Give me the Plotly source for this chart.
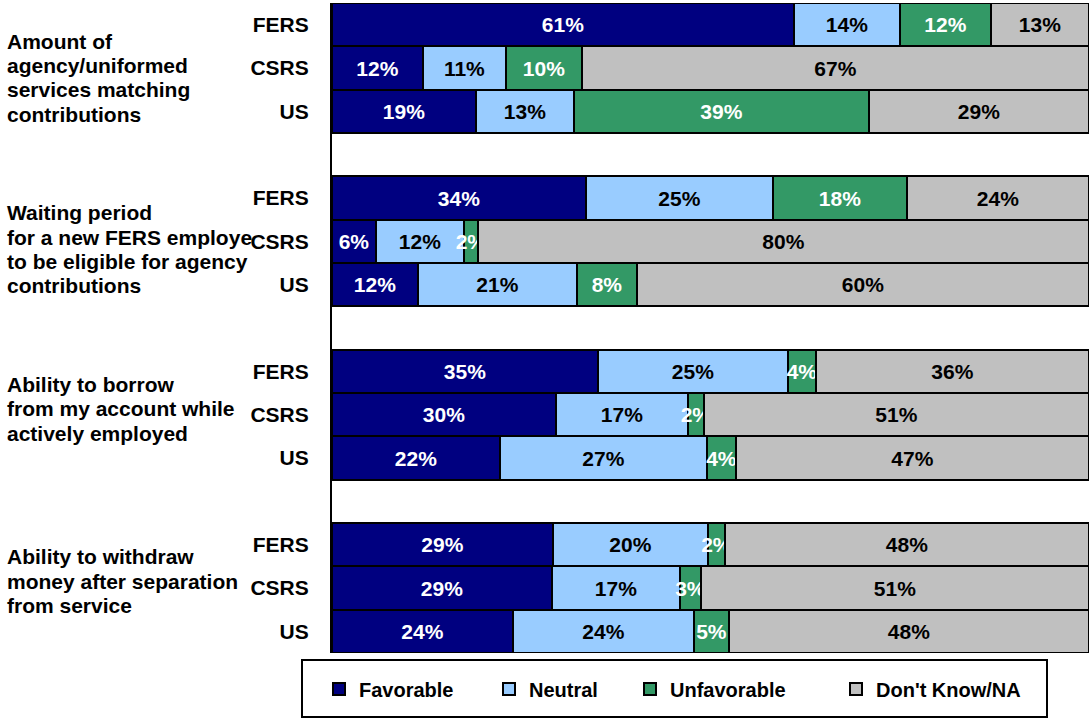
import plotly.graph_objects as go

# ---- data ----
group_labels = [
    ["Amount of", "agency/uniformed", "services matching", "contributions"],
    ["Waiting period", "for a new FERS employe", "to be eligible for agency", "contributions"],
    ["Ability to borrow", "from my account while", "actively employed"],
    ["Ability to withdraw", "money after separation", "from service"],
]
systems = ["FERS", "CSRS", "US"]
series_names = ["Favorable", "Neutral", "Unfavorable", "Don't Know/NA"]

# bar lengths (percent)
favorable = [61, 12, 19, 33.5, 5.8, 11.3, 35.2, 29.6, 22.2, 29.2, 29.1, 23.9]
neutral = [14, 11, 13, 24.8, 11.7, 21.1, 25.0, 17.4, 27.3, 20.5, 16.9, 23.9]
unfavorable = [12, 10, 39, 17.7, 1.8, 7.9, 3.8, 2.2, 3.9, 2.2, 2.7, 4.6]
dont_know = [13, 67, 29, 24.0, 80.7, 59.7, 36.0, 50.8, 46.6, 48.1, 51.3, 47.6]

# printed percentage labels
favorable_lbl = [61, 12, 19, 34, 6, 12, 35, 30, 22, 29, 29, 24]
neutral_lbl = [14, 11, 13, 25, 12, 21, 25, 17, 27, 20, 17, 24]
unfavorable_lbl = [12, 10, 39, 18, 2, 8, 4, 2, 4, 2, 3, 5]
dont_know_lbl = [13, 67, 29, 24, 80, 60, 36, 51, 47, 48, 51, 48]

# ---- layout constants ----
W, H = 1091, 719
ML, MR, MT, MB = 332, 2, 3, 66
PW = W - ML - MR
PH = H - MT - MB
FONT = "Arial, Liberation Sans, sans-serif"
colors = ["#000080", "#99CCFF", "#339966", "#C0C0C0"]
text_colors = ["white", "black", "white", "black"]

def px_x(x):
    return (x - ML) / PW

def px_y(y):
    return 1 - (y - MT) / PH

slots = [g * 4 + j for g in range(len(group_labels)) for j in range(len(systems))]
ticktext = [systems[j] for g in range(len(group_labels)) for j in range(len(systems))]

fig = go.Figure()
values = [favorable, neutral, unfavorable, dont_know]
labels = [favorable_lbl, neutral_lbl, unfavorable_lbl, dont_know_lbl]
legend_ids = ["legend", "legend2", "legend3", "legend4"]
for i, (name, vals, lbls) in enumerate(zip(series_names, values, labels)):
    fig.add_trace(go.Bar(
        y=slots, x=vals, orientation="h", name=name,
        marker=dict(color=colors[i], line=dict(color="black", width=2)),
        width=1,
        text=[f"{v}%" for v in lbls],
        textposition="inside", insidetextanchor="middle", textangle=0,
        insidetextfont=dict(family=FONT, size=21, color=text_colors[i], weight="bold"),
        legend=legend_ids[i],
        hoverinfo="skip",
    ))

# group labels
line_gap = 24.4
group_offsets = [9.6, 8.0, -6.0, -7.0]
annotations = []
for g, lines in enumerate(group_labels):
    n = len(lines)
    for k, line in enumerate(lines):
        shift = group_offsets[g] + (k - (n - 1) / 2) * line_gap
        annotations.append(dict(
            text=line, xref="paper", x=px_x(5), xanchor="left",
            yref="y", y=g * 4 + 1, yanchor="middle", yshift=-shift,
            showarrow=False, align="left",
            font=dict(family=FONT, size=21, color="black", weight="bold"),
        ))

legend_sq = [333, 503, 644, 850]
legend_cfg = {}
for i, lid in enumerate(legend_ids):
    legend_cfg[lid] = dict(
        xref="container", yref="container",
        x=(legend_sq[i] - 14) / W, xanchor="left",
        y=1 - 689 / H, yanchor="middle",
        orientation="h", bgcolor="rgba(0,0,0,0)", borderwidth=0,
        font=dict(family=FONT, size=20, color="black", weight="bold"),
        itemclick=False, itemdoubleclick=False,
    )

fig.update_layout(
    width=W, height=H, autosize=False,
    margin=dict(l=ML, r=MR, t=MT, b=MB, autoexpand=False),
    paper_bgcolor="white", plot_bgcolor="white",
    barmode="stack", bargap=0,
    showlegend=True,
    uniformtext=dict(minsize=21, mode="show"),
    xaxis=dict(range=[0, 100], visible=False, fixedrange=True),
    yaxis=dict(
        range=[14.5, -0.5], tickmode="array", tickvals=slots, ticktext=ticktext,
        showgrid=False, zeroline=False, ticks="", ticklabelstandoff=17,
        showline=True, linecolor="black", linewidth=2, automargin=False,
        tickfont=dict(family=FONT, size=21, color="black", weight="bold"),
        fixedrange=True,
    ),
    annotations=annotations,
    shapes=[dict(
        type="rect", xref="paper", yref="paper",
        x0=px_x(302), x1=px_x(1047), y0=px_y(660), y1=px_y(717),
        line=dict(color="black", width=2), fillcolor="rgba(0,0,0,0)",
    )],
    **legend_cfg,
)

fig.write_html(
    "out.html",
    config={"displayModeBar": False},
    post_script="document.body.style.margin='0';document.body.style.padding='0';"
                "document.body.style.overflow='hidden';",
)
